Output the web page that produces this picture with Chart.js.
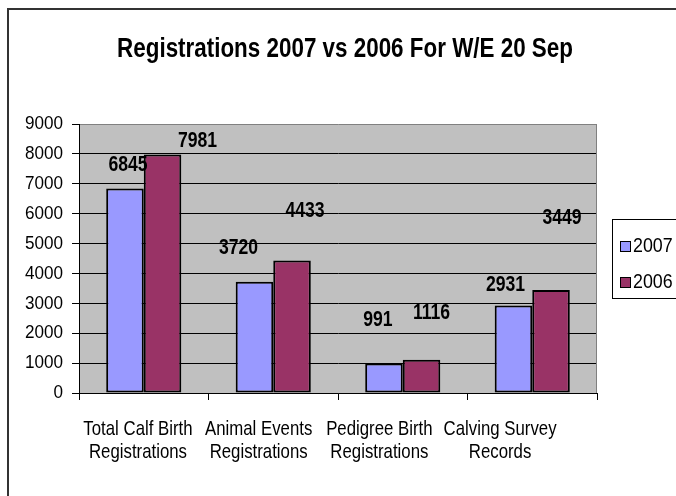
<!DOCTYPE html>
<html>
<head>
<meta charset="utf-8">
<script src="https://cdn.jsdelivr.net/npm/chart.js@4.4.1/dist/chart.umd.min.js"></script>
<style>
    html, body { margin: 0; padding: 0; background: #fff; }
</style>
</head>
<body>
<canvas id="regChart" width="676" height="496"></canvas>
<script>
// Registrations 2007 vs 2006 chart

const categories = [
    ['Total Calf Birth', 'Registrations'],
    ['Animal Events', 'Registrations'],
    ['Pedigree Birth', 'Registrations'],
    ['Calving Survey', 'Records']
];
const seriesNames = ['2007', '2006'];
const values2007 = [6845, 3720, 991, 2931];
const values2006 = [7981, 4433, 1116, 3449];
const yMin = 0;
const yMax = 9000;
const yStep = 1000;

// no narrow font installed, so squeeze Liberation Sans sideways instead
const FONT = '"Liberation Sans", Arial, sans-serif';

// value labels were nudged around by hand in the original, keep the same nudges
const labelNudge = [
    [[3, -23], [-16, -34], [-6, -43], [-8, -20]],
    [[35, -14], [13, -50], [10, -47], [11, -72]]
];

function squeezedText(ctx, text, x, y, sx) {
    ctx.save();
    ctx.translate(x, y);
    ctx.scale(sx, 1);
    ctx.fillText(text, 0, 0);
    ctx.restore();
}

const excelLook = {
    id: 'excelLook',
    beforeDraw(chart) {
        const { ctx, chartArea: a } = chart;
        ctx.save();
        ctx.fillStyle = '#c0c0c0';
        ctx.fillRect(a.left, a.top, a.right - a.left, a.bottom - a.top);
        ctx.restore();
    },
    afterDraw(chart) {
        const { ctx, chartArea: a } = chart;
        const xScale = chart.scales.x;
        const yScale = chart.scales.y;
        ctx.save();

        // right edge of the plot area
        ctx.strokeStyle = '#808080';
        ctx.lineWidth = 1;
        ctx.beginPath();
        ctx.moveTo(a.right - 0.5, a.top);
        ctx.lineTo(a.right - 0.5, a.bottom);
        ctx.stroke();

        // outer frame
        ctx.strokeStyle = '#333';
        ctx.lineWidth = 2;
        ctx.strokeRect(8, 9, 720, 520);

        ctx.fillStyle = '#000';

        // title
        ctx.font = 'bold 27px ' + FONT;
        ctx.textAlign = 'center';
        ctx.textBaseline = 'middle';
        squeezedText(ctx, 'Registrations 2007 vs 2006 For W/E 20 Sep', 345, 50, 0.83);

        // y tick labels
        ctx.font = '19px ' + FONT;
        ctx.textAlign = 'right';
        yScale.ticks.forEach(t => {
            squeezedText(ctx, String(t.value), a.left - 16, yScale.getPixelForValue(t.value), 0.9);
        });

        // category labels (Excel packs them a bit tighter than the categories)
        ctx.font = '21px ' + FONT;
        ctx.textAlign = 'center';
        ctx.textBaseline = 'alphabetic';
        categories.forEach((lines, i) => {
            const cx = xScale.getPixelForTick(i) * 0.932 + 4;
            lines.forEach((line, li) => {
                squeezedText(ctx, line, cx, a.bottom + 42 + li * 23, 0.8);
            });
        });

        // value labels
        ctx.font = 'bold 22px ' + FONT;
        ctx.textBaseline = 'middle';
        chart.data.datasets.forEach((ds, di) => {
            chart.getDatasetMeta(di).data.forEach((bar, i) => {
                const n = labelNudge[di][i];
                squeezedText(ctx, String(ds.data[i]), bar.x + n[0], bar.y + n[1], 0.8);
            });
        });

        // legend box
        const lx = a.right + 15;
        const ly = 219;
        ctx.strokeStyle = '#000';
        ctx.lineWidth = 1;
        ctx.strokeRect(lx + 0.5, ly + 0.5, 90, 79);
        ctx.font = '21px ' + FONT;
        ctx.textAlign = 'left';
        chart.data.datasets.forEach((ds, di) => {
            const cy = ly + 27 + di * 36;
            ctx.fillStyle = ds.backgroundColor;
            ctx.fillRect(lx + 8, cy - 5, 10, 10);
            ctx.strokeRect(lx + 8.5, cy - 4.5, 10, 10);
            ctx.fillStyle = '#000';
            squeezedText(ctx, ds.label, lx + 21, cy, 0.85);
        });
        ctx.restore();
    }
};

new Chart(document.getElementById('regChart'), {
    type: 'bar',
    data: {
        labels: categories,
        datasets: [
            {
                label: seriesNames[0],
                data: values2007,
                backgroundColor: '#9999ff',
                borderColor: '#000',
                borderWidth: 2,
                borderSkipped: false
            },
            {
                label: seriesNames[1],
                data: values2006,
                backgroundColor: '#993366',
                borderColor: '#000',
                borderWidth: 2,
                borderSkipped: false
            }
        ]
    },
    options: {
        responsive: false,
        animation: false,
        layout: { padding: { left: 14, top: 124, right: 79, bottom: 0 } },
        datasets: { bar: { categoryPercentage: 0.58, barPercentage: 1 } },
        plugins: {
            legend: { display: false },
            title: { display: false },
            tooltip: { enabled: false }
        },
        scales: {
            x: {
                offset: true,
                grid: {
                    offset: true,
                    drawOnChartArea: false,
                    tickLength: 7,
                    color: '#000'
                },
                border: { color: '#000' },
                ticks: { display: false, autoSkip: false },
                afterFit(scale) { scale.height = 103; }
            },
            y: {
                min: yMin,
                max: yMax,
                grid: {
                    color: ctx => (ctx.tick && ctx.tick.value === yMax ? '#808080' : '#000'),
                    tickColor: '#000',
                    tickLength: 7
                },
                border: { color: '#000' },
                ticks: { display: false, stepSize: yStep },
                afterFit(scale) { scale.width = 65; }
            }
        }
    },
    plugins: [excelLook]
});
</script>
</body>
</html>
